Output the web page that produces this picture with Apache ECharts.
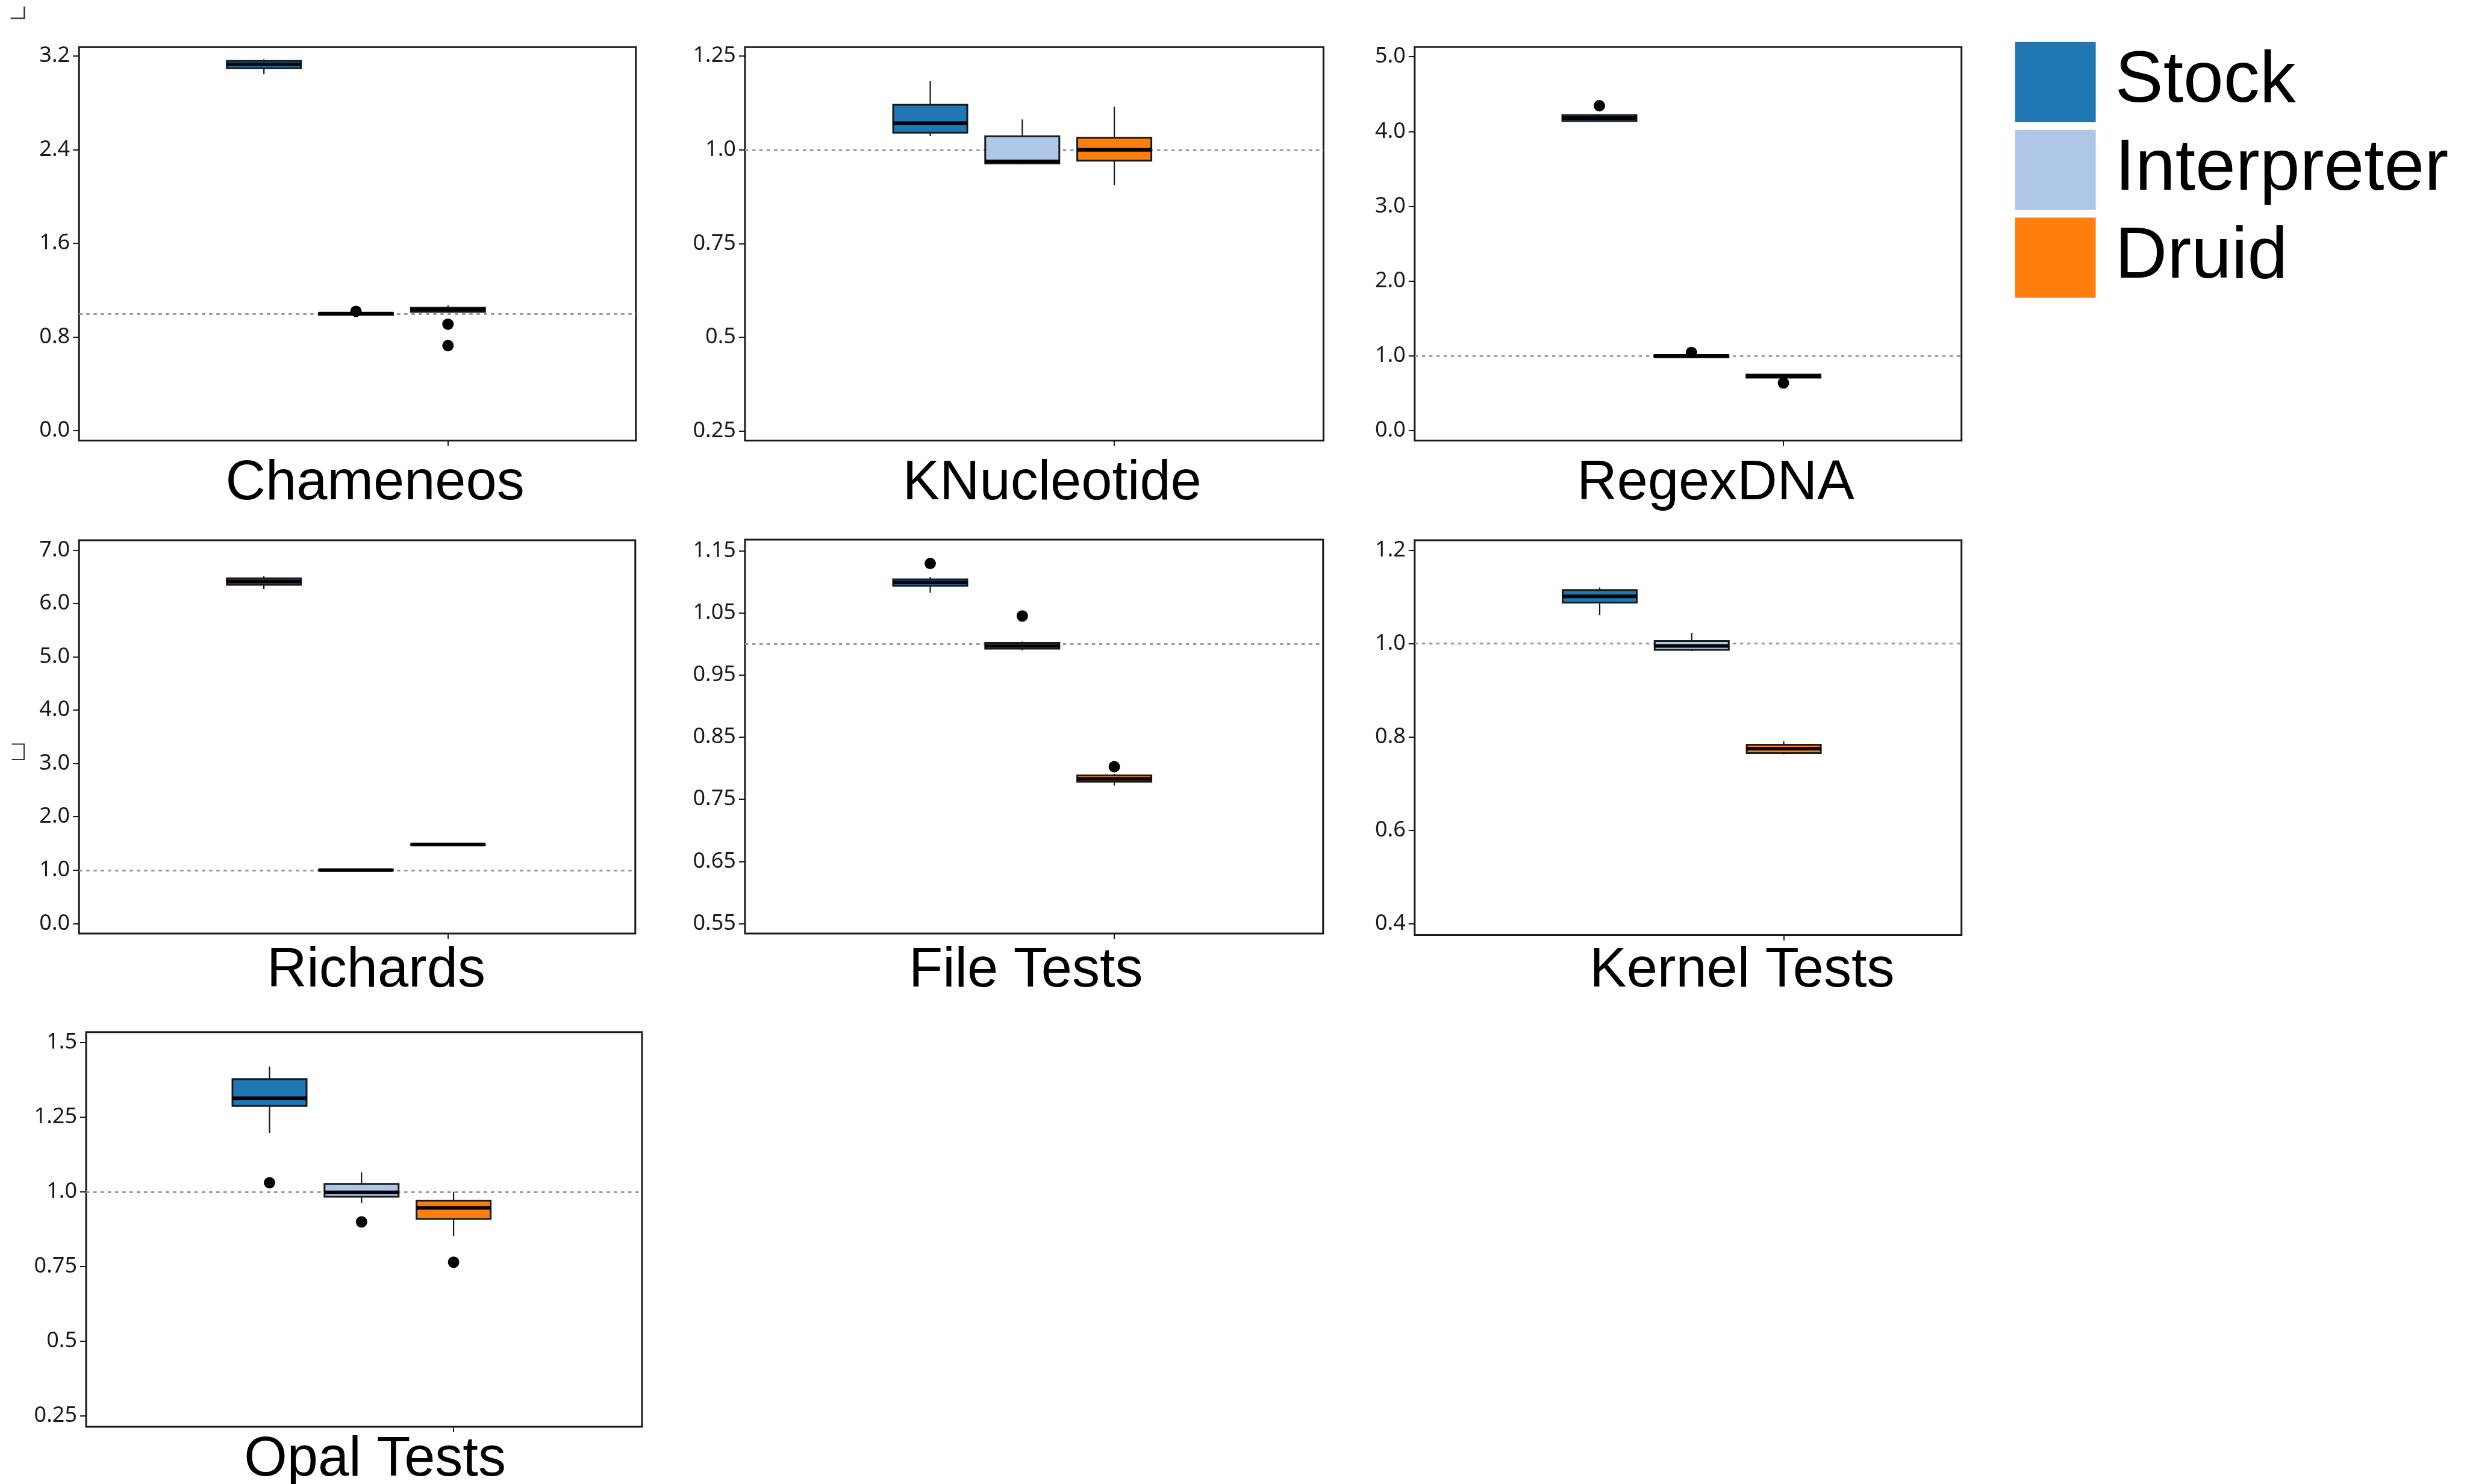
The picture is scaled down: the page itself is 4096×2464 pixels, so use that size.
<!DOCTYPE html>
<html>
<head>
<meta charset="utf-8">
<script src="https://cdn.jsdelivr.net/npm/echarts@6/dist/echarts.min.js"></script>
<style>
html,body{margin:0;padding:0;background:#fff;}
#chart{width:4096px;height:2464px;}
</style>
</head>
<body>
<div id="chart"></div>
<script>
// ---------------- DATA ----------------
const GROUPS = ['Stock', 'Interpreter', 'Druid'];
const BENCHMARKS = ['Chameneos', 'KNucleotide', 'RegexDNA', 'Richards', 'File Tests', 'Kernel Tests', 'Opal Tests'];

// box stats per group: [min, Q1, median, Q3, max]; outliers: [groupIndex, value]
const chameneosBoxes = [[3.045, 3.096, 3.13, 3.158, 3.172], [0.985, 0.99, 1.0, 1.005, 1.01], [1.01, 1.015, 1.035, 1.05, 1.07]];
const chameneosOutliers = [[1, 1.02], [2, 0.91], [2, 0.727]];
const chameneosTicks = [0, 0.8, 1.6, 2.4, 3.2];
const chameneosTickLabels = ['0.0', '0.8', '1.6', '2.4', '3.2'];

const knucleotideBoxes = [[1.037, 1.046, 1.071, 1.12, 1.184], [0.962, 0.964, 0.969, 1.036, 1.081], [0.906, 0.971, 1.0, 1.032, 1.115]];
const knucleotideOutliers = [];
const knucleotideTicks = [0.25, 0.5, 0.75, 1.0, 1.25];
const knucleotideTickLabels = ['0.25', '0.5', '0.75', '1.0', '1.25'];

const regexdnaBoxes = [[4.13, 4.14, 4.18, 4.22, 4.235], [0.98, 0.985, 1.0, 1.01, 1.015], [0.70, 0.71, 0.73, 0.75, 0.755]];
const regexdnaOutliers = [[0, 4.345], [1, 1.046], [2, 0.64]];
const regexdnaTicks = [0, 1, 2, 3, 4, 5];
const regexdnaTickLabels = ['0.0', '1.0', '2.0', '3.0', '4.0', '5.0'];

const richardsBoxes = [[6.27, 6.35, 6.41, 6.47, 6.51], [0.99, 0.995, 1.0, 1.005, 1.01], [1.47, 1.475, 1.48, 1.485, 1.49]];
const richardsOutliers = [];
const richardsTicks = [0, 1, 2, 3, 4, 5, 6, 7];
const richardsTickLabels = ['0.0', '1.0', '2.0', '3.0', '4.0', '5.0', '6.0', '7.0'];

const fileBoxes = [[1.0826, 1.094, 1.099, 1.104, 1.108], [0.99, 0.9926, 0.997, 1.0017, 1.004], [0.772, 0.7783, 0.783, 0.7885, 0.791]];
const fileOutliers = [[0, 1.1297], [1, 1.0452], [2, 0.8026]];
const fileTicks = [0.55, 0.65, 0.75, 0.85, 0.95, 1.05, 1.15];
const fileTickLabels = ['0.55', '0.65', '0.75', '0.85', '0.95', '1.05', '1.15'];

const kernelBoxes = [[1.061, 1.0876, 1.101, 1.1145, 1.12], [0.984, 0.9864, 0.995, 1.0053, 1.0226], [0.763, 0.7653, 0.775, 0.7835, 0.791]];
const kernelOutliers = [];
const kernelTicks = [0.4, 0.6, 0.8, 1.0, 1.2];
const kernelTickLabels = ['0.4', '0.6', '0.8', '1.0', '1.2'];

const opalBoxes = [[1.198, 1.288, 1.314, 1.378, 1.42], [0.963, 0.984, 0.999, 1.027, 1.066], [0.852, 0.91, 0.947, 0.971, 1.001]];
const opalOutliers = [[0, 1.031], [1, 0.90], [2, 0.765]];
const opalTicks = [0.25, 0.5, 0.75, 1.0, 1.25, 1.5];
const opalTickLabels = ['0.25', '0.5', '0.75', '1.0', '1.25', '1.5'];

const REFERENCE_VALUE = 1.0;

// ---------------- STYLE / LAYOUT ----------------
const COLORS = ['#1f77b4', '#aec7e8', '#ff7f0e'];
const INK = '#1a1a1a';
const SLOT_PX = 152.8;      // distance between neighbouring boxes
const BOX_HALF = 61.5;      // half box width (px)

const LAYOUT = [
  {left: 131.2, top: 78.3, width: 924.6, height: 653.2, boxStart: 307.0, yMin: -0.084, yMax: 3.276, tx: 622.6, ty: 804},
  {left: 1236.9, top: 78.3, width: 960.5, height: 653.2, boxStart: 307.6, yMin: 0.224, yMax: 1.274, tx: 1746.7, ty: 804},
  {left: 2348.8, top: 78.1, width: 907.9, height: 653.4, boxStart: 306.7, yMin: -0.131, yMax: 5.13, tx: 2848.4, ty: 804},
  {left: 131.2, top: 897.1, width: 923.6, height: 652.8, boxStart: 306.9, yMin: -0.187, yMax: 7.183, tx: 624.4, ty: 1613},
  {left: 1236.9, top: 896.1, width: 959.9, height: 653.9, boxStart: 307.6, yMin: 0.534, yMax: 1.168, tx: 1703.2, ty: 1613},
  {left: 2348.8, top: 897.1, width: 907.9, height: 655.5, boxStart: 307.2, yMin: 0.376, yMax: 1.221, tx: 2892.4, ty: 1613},
  {left: 143.0, top: 1713.8, width: 922.9, height: 655.2, boxStart: 304.5, yMin: 0.214, yMax: 1.535, tx: 622.6, ty: 2425}
];

const PANELS = [
  {boxes: chameneosBoxes, outliers: chameneosOutliers, ticks: chameneosTicks, labels: chameneosTickLabels},
  {boxes: knucleotideBoxes, outliers: knucleotideOutliers, ticks: knucleotideTicks, labels: knucleotideTickLabels},
  {boxes: regexdnaBoxes, outliers: regexdnaOutliers, ticks: regexdnaTicks, labels: regexdnaTickLabels},
  {boxes: richardsBoxes, outliers: richardsOutliers, ticks: richardsTicks, labels: richardsTickLabels},
  {boxes: fileBoxes, outliers: fileOutliers, ticks: fileTicks, labels: fileTickLabels},
  {boxes: kernelBoxes, outliers: kernelOutliers, ticks: kernelTicks, labels: kernelTickLabels},
  {boxes: opalBoxes, outliers: opalOutliers, ticks: opalTicks, labels: opalTickLabels}
];

function renderBox(params, api) {
  const x = api.value(0);
  const pMin = api.coord([x, api.value(1)]);
  const pQ1 = api.coord([x, api.value(2)]);
  const pMed = api.coord([x, api.value(3)]);
  const pQ3 = api.coord([x, api.value(4)]);
  const pMax = api.coord([x, api.value(5)]);
  const cx = pMed[0];
  const h = BOX_HALF;
  return {
    type: 'group',
    children: [
      {type: 'line', shape: {x1: cx, y1: pMin[1], x2: cx, y2: pQ1[1]}, style: {stroke: INK, lineWidth: 2.2}},
      {type: 'line', shape: {x1: cx, y1: pQ3[1], x2: cx, y2: pMax[1]}, style: {stroke: INK, lineWidth: 2.2}},
      {type: 'rect', shape: {x: cx - h, y: pQ3[1], width: 2 * h, height: pQ1[1] - pQ3[1]},
        style: {fill: api.visual('color'), stroke: INK, lineWidth: 3}},
      {type: 'line', shape: {x1: cx - h, y1: pMed[1], x2: cx + h, y2: pMed[1]}, style: {stroke: '#000', lineWidth: 6}}
    ]
  };
}

const grids = [], xAxes = [], yAxes = [], series = [], graphics = [];

PANELS.forEach(function (p, k) {
  const L = LAYOUT[k];
  const firstSlot = L.boxStart / SLOT_PX;
  grids.push({left: L.left, top: L.top, width: L.width, height: L.height, show: true,
    borderColor: INK, borderWidth: 3, backgroundColor: '#fff', containLabel: false, outerBoundsMode: 'none'});
  xAxes.push({type: 'value', gridIndex: k, min: 0, max: L.width / SLOT_PX,
    axisLine: {show: false, onZero: false}, splitLine: {show: false}, axisLabel: {show: false},
    axisTick: {show: true, customValues: [firstSlot + 2], length: 9, lineStyle: {color: INK, width: 2}}});
  yAxes.push({type: 'value', gridIndex: k, min: L.yMin, max: L.yMax,
    axisLine: {show: false, onZero: false}, splitLine: {show: false},
    axisTick: {show: true, customValues: p.ticks, length: 10, lineStyle: {color: INK, width: 2}},
    axisLabel: {show: true, customValues: p.ticks, margin: 15, fontFamily: 'Noto Sans', fontSize: 36, color: INK,
      formatter: function (v) {
        for (let i = 0; i < p.ticks.length; i++) { if (Math.abs(p.ticks[i] - v) < 1e-9) return p.labels[i]; }
        return '';
      }}});
  GROUPS.forEach(function (g, i) {
    series.push({type: 'custom', name: g, xAxisIndex: k, yAxisIndex: k, renderItem: renderBox, silent: true, z: 3,
      itemStyle: {color: COLORS[i]}, encode: {x: 0, y: [1, 2, 3, 4, 5]},
      data: [[firstSlot + i].concat(p.boxes[i])]});
  });
  series.push({type: 'scatter', xAxisIndex: k, yAxisIndex: k, silent: true, z: 4, symbol: 'circle', symbolSize: 19,
    itemStyle: {color: '#000', opacity: 1},
    data: p.outliers.map(function (o) { return [firstSlot + o[0], o[1]]; }),
    markLine: {silent: true, z: 1, symbol: ['none', 'none'], label: {show: false},
      lineStyle: {color: '#999999', type: [5.5, 6.5], width: 3.2}, data: [{yAxis: REFERENCE_VALUE}]}});
  graphics.push({type: 'text', x: L.tx, y: L.ty, silent: true,
    style: {text: BENCHMARKS[k], font: '92px "Liberation Sans", Arial, sans-serif', fill: '#000', align: 'center', verticalAlign: 'middle'}});
});

// small corner marks present in the original
graphics.push({type: 'polyline', silent: true, shape: {points: [[17.6, 30.5], [40.5, 30.5], [40.5, 10.7]]},
  style: {stroke: '#333', lineWidth: 2.5, fill: null}});
graphics.push({type: 'polyline', silent: true, shape: {points: [[19.5, 1235.5], [40, 1235.5], [40, 1261], [19.5, 1261]]},
  style: {stroke: '#333', lineWidth: 2, fill: null}});

const chart = echarts.init(document.getElementById('chart'), null, {renderer: 'canvas'});
chart.setOption({
  animation: false,
  backgroundColor: '#fff',
  grid: grids,
  xAxis: xAxes,
  yAxis: yAxes,
  legend: {data: GROUPS, orient: 'vertical', left: 3345.6, top: 69.7, itemWidth: 134, itemHeight: 133.3, itemGap: 12.5,
    icon: 'rect', selectedMode: false, padding: 0,
    textStyle: {fontFamily: 'Liberation Sans', fontSize: 120, color: '#000', padding: [6, 0, 0, 27]}},
  graphic: graphics,
  series: series
});
</script>
</body>
</html>
